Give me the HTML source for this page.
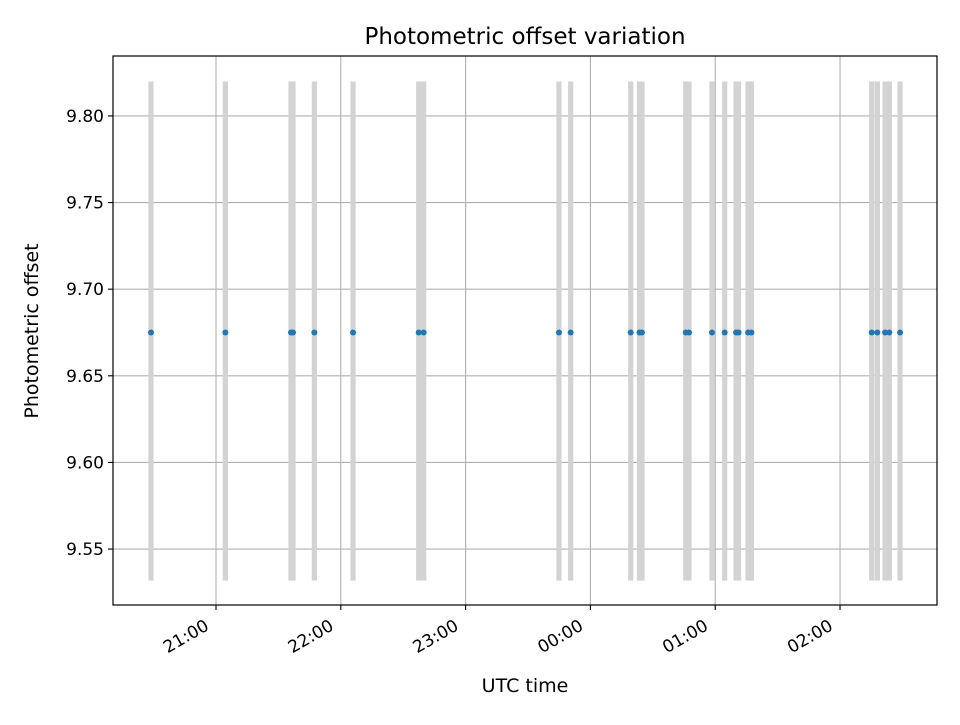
<!DOCTYPE html>
<html><head><meta charset="utf-8"><style>
body{margin:0;background:#fff}
svg text{font-family:"DejaVu Sans","Liberation Sans",sans-serif;fill:#000}
</style></head><body>
<svg id="chart" width="960" height="720" xmlns="http://www.w3.org/2000/svg">
<rect width="960" height="720" fill="#fff"/>
<g id="grid"></g>
<g id="bars"></g>
<g id="pts"></g>
<rect x="113" y="56" width="824" height="549" fill="none" stroke="#000" stroke-width="1.2"/>
<g id="axes"></g>
<text x="525" y="44" font-size="23" text-anchor="middle">Photometric offset variation</text>
<text x="525" y="692" font-size="19" text-anchor="middle">UTC time</text>
<text x="38" y="331" font-size="19" text-anchor="middle" transform="rotate(-90 38 331)">Photometric offset</text>
</svg>
<script>
// times in hours after 20:00 UTC
const times=[0.479,1.075,1.601,1.617,1.788,2.098,2.624,2.664,3.748,3.842,4.323,4.393,4.413,4.764,4.790,4.974,5.076,5.167,5.187,5.263,5.290,6.254,6.299,6.361,6.395,6.481];
const offsets=[9.675,9.675,9.675,9.675,9.675,9.675,9.675,9.675,9.675,9.675,9.675,9.675,9.675,9.675,9.675,9.675,9.675,9.675,9.675,9.675,9.675,9.675,9.675,9.675,9.675,9.675];
const barLow=9.5318, barHigh=9.8199;
const xTickHours=[1,2,3,4,5,6];
const xTickLabels=["21:00","22:00","23:00","00:00","01:00","02:00"];
const yTicks=[9.55,9.60,9.65,9.70,9.75,9.80];
const yTickLabels=["9.55","9.60","9.65","9.70","9.75","9.80"];

const L=113,R=937,T=56,B=605;
const xMin=0.1747,xMax=6.777,yMin=9.5177,yMax=9.8346;
const X=v=>L+(v-xMin)/(xMax-xMin)*(R-L);
const Y=v=>B-(v-yMin)/(yMax-yMin)*(B-T);
const NS="http://www.w3.org/2000/svg";
function mk(tag,attrs,parent){const e=document.createElementNS(NS,tag);for(const k in attrs)e.setAttribute(k,attrs[k]);parent.appendChild(e);return e;}
const grid=document.getElementById('grid'),axes=document.getElementById('axes'),bars=document.getElementById('bars'),pts=document.getElementById('pts');
xTickHours.forEach((h,i)=>{
  const x=X(h);
  const g=mk('line',{x1:x,x2:x,y1:T,y2:B,stroke:'#b0b0b0','stroke-width':1.1},grid);
  
  
  const t=mk('line',{x1:x,x2:x,y1:B,y2:B+5,stroke:'#000','stroke-width':1.1},axes);
  
  
  const px=x-6,py=B+24;
  const lb=mk('text',{x:px,y:py,'font-size':17,'text-anchor':'end',transform:`rotate(-30 ${px} ${py})`},axes);
  lb.textContent=xTickLabels[i];
  
  
});
yTicks.forEach((v,i)=>{
  const y=Y(v);
  const g=mk('line',{x1:L,x2:R,y1:y,y2:y,stroke:'#b0b0b0','stroke-width':1.1},grid);
  
  
  const t=mk('line',{x1:L-5,x2:L,y1:y,y2:y,stroke:'#000','stroke-width':1.1},axes);
  
  
  const lb=mk('text',{x:L-9,y:y+6,'font-size':17,'text-anchor':'end'},axes);
  lb.textContent=yTickLabels[i];
  
  
});
times.forEach((h,i)=>{
  const x=X(h);
  const b=mk('rect',{x:x-2.6,y:Y(barHigh),width:5.2,height:Y(barLow)-Y(barHigh),fill:'#d3d3d3'},bars);
  
  
});
times.forEach((h,i)=>{
  const c=mk('circle',{cx:X(h),cy:Y(offsets[i]),r:3,fill:'#1f77b4'},pts);
  
  
});
</script>
</body></html>
